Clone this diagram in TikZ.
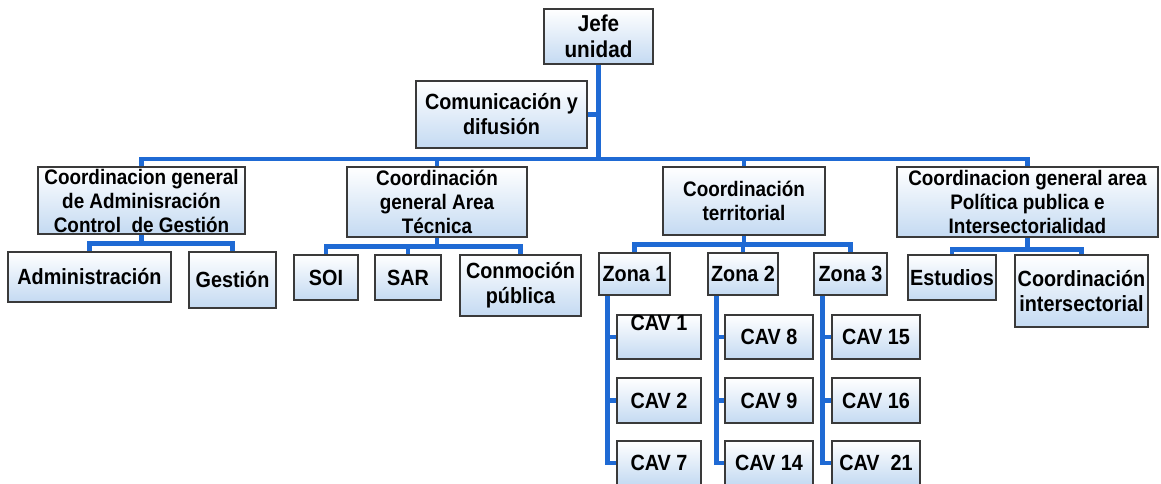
\documentclass[tikz,border=0pt]{standalone}
\usepackage{fontspec}
\setmainfont{Liberation Sans}[FakeStretch=0.9]
\usepackage{tikz}
\usetikzlibrary{positioning,backgrounds}
\usepackage{xcolor}
\definecolor{BoxTop}{HTML}{FFFFFF}
\definecolor{BoxBottom}{HTML}{C4DAF2}
\definecolor{BoxLine}{HTML}{3A3A3A}
\definecolor{LinkBlue}{HTML}{1F6AD4}

\begin{document}
\begin{tikzpicture}[
  x=1pt, y=-1pt,
  box/.style={draw=BoxLine, line width=1.2pt, top color=BoxTop, bottom color=BoxBottom, align=center, inner sep=0pt, font=\bfseries\fontsize{22}{25}\selectfont},
  head/.style={box, font=\bfseries\fontsize{21}{24}\selectfont},
  dims/.style 2 args={minimum width=#1, minimum height=#2},
  link/.style={draw=LinkBlue, line width=4.5pt, line cap=rect}
]
\useasboundingbox (0,0) rectangle (1161,484);

% Top
\node[box,dims={109}{55},font=\bfseries\fontsize{23}{26}\selectfont] (jefe) at (598.5,36.5) {Jefe\\unidad};
\node[box,dims={171}{67}] (comun) at (501.5,114.5) {Comunicación y\\difusión};

% Coordinaciones
\node[head,dims={207}{67}] (cadm) at (141.5,200.5) {Coordinacion general\\de Adminisración\\Control\ \ de Gestión};
\node[head,dims={180}{70}] (ctec) at (437,202) {Coordinación\\general Area\\Técnica};
\node[head,dims={162}{68}] (cter) at (744,201) {Coordinación\\territorial};
\node[head,dims={261}{70}] (cpol) at (1027.5,202) {Coordinacion general area\\Política publica e\\Intersectorialidad};

% Administracion / gestion
\node[box,dims={163}{50}] (adm) at (89.5,277) {Administración};
\node[box,dims={87}{56}] (ges) at (232.5,280) {Gestión};

% Area tecnica
\node[box,dims={64}{45}] (soi) at (326,277.5) {SOI};
\node[box,dims={66}{45}] (sar) at (408,277.5) {SAR};
\node[box,dims={121}{61}] (conm) at (520.5,285.5) {Conmoción\\pública};

% Zonas
\node[box,dims={71}{42}] (z1) at (634.5,274) {Zona 1};
\node[box,dims={70}{42}] (z2) at (743,274) {Zona 2};
\node[box,dims={73}{42}] (z3) at (850.5,274) {Zona 3};

% CAV
\node[box,dims={84}{44}] (cav1) at (659,337) {\smash{\raisebox{7pt}{CAV 1}}};
\node[box,dims={84}{45}] (cav2) at (659,400.5) {CAV 2};
\node[box,dims={84}{44}] (cav7) at (659,463) {CAV 7};
\node[box,dims={88}{44}] (cav8) at (769,337) {CAV 8};
\node[box,dims={88}{45}] (cav9) at (769,400.5) {CAV 9};
\node[box,dims={88}{44}] (cav14) at (769,463) {CAV 14};
\node[box,dims={88}{44}] (cav15) at (876,337) {CAV 15};
\node[box,dims={88}{45}] (cav16) at (876,400.5) {CAV 16};
\node[box,dims={88}{44}] (cav21) at (876,463) {CAV\ \ 21};

% Politica publica
\node[box,dims={88}{45}] (est) at (952,277.5) {Estudios};
\node[box,dims={133}{72}] (cint) at (1081.5,291) {Coordinación\\intersectorial};

% Connectors
\begin{scope}[on background layer]
\coordinate (bus) at (598.5,159);
\draw[link] (jefe.south) -- (bus);
\draw[link] (comun.east) -- (comun.east -| jefe.south);
\foreach \c in {cadm,ctec,cter,cpol}
  \draw[link] (bus) -| (\c.north);

\foreach \c in {adm,ges}
  \draw[link] (cadm.south) -- ++(0,9) -| (\c.north);
\foreach \c in {soi,sar,conm}
  \draw[link] (ctec.south) -- ++(0,9) -| (\c.north);
\foreach \c in {z1,z2,z3}
  \draw[link] (cter.south) -- ++(0,9) -| (\c.north);
\foreach \c in {est,cint}
  \draw[link] (cpol.south) -- ++(0,12) -| (\c.north);

% Zone spines
\foreach \z/\a/\b/\e in {z1/cav1/cav2/cav7, z2/cav8/cav9/cav14, z3/cav15/cav16/cav21} {
  \coordinate (s) at ([xshift=9pt]\z.south west);
  \draw[link] (s) |- (\e.west);
  \draw[link] (s |- \a.west) -- (\a.west);
  \draw[link] (s |- \b.west) -- (\b.west);
}
\end{scope}
\end{tikzpicture}
\end{document}
